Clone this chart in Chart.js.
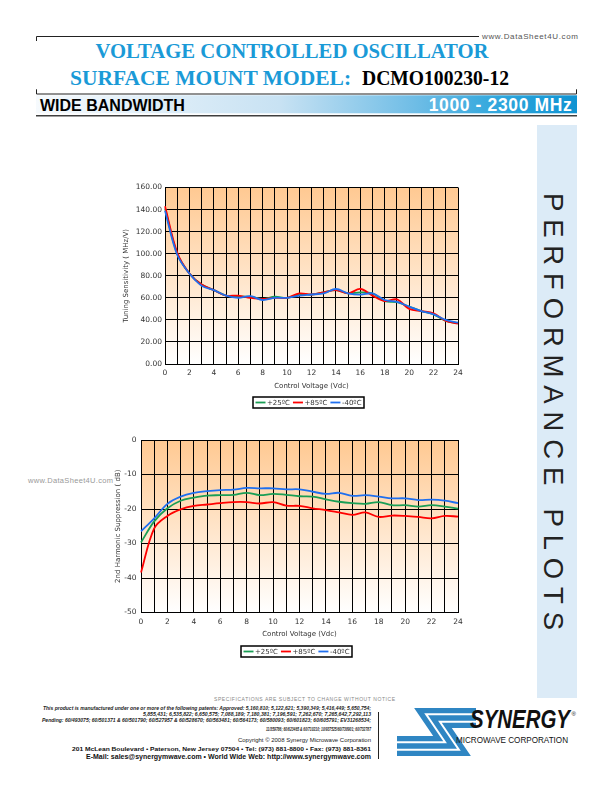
<!DOCTYPE html>
<html><head><meta charset="utf-8">
<script src="https://cdn.jsdelivr.net/npm/chart.js@4/dist/chart.umd.min.js"></script>
<style>
html,body{margin:0;padding:0;background:#fff}
#page{position:relative;width:612px;height:792px;overflow:hidden;background:#fff}
#deco{position:absolute;left:0;top:0}
canvas{position:absolute}
#c1{left:110px;top:180px}
#c2{left:100px;top:430px}
</style></head><body><div id="page">
<svg id="deco" width="612" height="792" xmlns="http://www.w3.org/2000/svg">
  <defs>
    <linearGradient id="bar" x1="0" x2="1" y1="0" y2="0">
      <stop offset="0" stop-color="#f6fafd"/>
      <stop offset="0.45" stop-color="#c8e2f3"/>
      <stop offset="0.7" stop-color="#6fbde6"/>
      <stop offset="0.86" stop-color="#2ea6dc"/>
      <stop offset="1" stop-color="#0f93d2"/>
    </linearGradient>
  </defs>
  <!-- header brackets -->
  <path d="M36.5,41 V36.5 H479" fill="none" stroke="#222" stroke-width="1"/>
  <text x="482" y="39" font-family="Liberation Sans" font-size="8" fill="#555" textLength="96" lengthAdjust="spacing">www.DataSheet4U.com</text>
  <text x="292" y="57.5" text-anchor="middle" font-family="Liberation Serif" font-weight="bold" font-size="20.7" fill="#1a9ad7">VOLTAGE CONTROLLED OSCILLATOR</text>
  <text y="85" font-family="Liberation Serif" font-weight="bold"><tspan x="70" font-size="21.5" fill="#1a9ad7">SURFACE MOUNT MODEL:</tspan><tspan x="362" font-size="21.8" fill="#000" textLength="147" lengthAdjust="spacingAndGlyphs">DCMO100230-12</tspan></text>
  <path d="M36.5,89.3 V94 H576.5 V89.3" fill="none" stroke="#222" stroke-width="1"/>
  <rect x="36" y="95.3" width="541" height="18" fill="url(#bar)"/>
  <rect x="36" y="115.2" width="541" height="1.2" fill="#111"/>
  <text x="40" y="110.7" font-family="Liberation Sans" font-weight="bold" font-size="16" fill="#000">WIDE BANDWIDTH</text>
  <text x="571.7" y="110.5" text-anchor="end" font-family="Liberation Sans" font-weight="bold" font-size="17.5" fill="#fff" textLength="143" lengthAdjust="spacing">1000 - 2300 MHz</text>
  <!-- sidebar -->
  <rect x="537" y="125" width="40" height="573" fill="#dcebf7"/>
  <text transform="translate(554,411.5) rotate(90)" x="0" y="9.8" text-anchor="middle" font-family="Liberation Sans" font-size="27.5" fill="#222" textLength="437" lengthAdjust="spacing">PERFORMANCE PLOTS</text>
  <!-- watermark -->
  <text x="28" y="483" font-family="Liberation Sans" font-size="7.5" fill="#999" textLength="85" lengthAdjust="spacing">www.DataSheet4U.com</text>
  <!-- footer -->
  <text x="214" y="701" font-family="Liberation Sans" font-size="5" fill="#888" textLength="181" lengthAdjust="spacing">SPECIFICATIONS ARE SUBJECT TO CHANGE WITHOUT NOTICE</text>
  <g font-family="Liberation Sans" font-style="italic" font-weight="bold" font-size="4.6" fill="#222">
    <text x="43" y="709.5" textLength="328" lengthAdjust="spacingAndGlyphs">This product is manufactured under one or more of the following patents: Approved: 5,160,810; 5,122,621; 5,390,349; 5,416,449; 5,650,754;</text>
    <text x="143" y="715.5" textLength="228" lengthAdjust="spacingAndGlyphs">5,855,431; 6,535,822; 6,650,575; 7,088,189; 7,180,381; 7,196,591; 7,262,670; 7,265,642,7,292,113</text>
    <text x="42" y="721.5" textLength="329" lengthAdjust="spacingAndGlyphs">Pending: 60/493075; 60/501371 &amp; 60/501790; 60/527957 &amp; 60/528670; 60/563481; 60/564173; 60/580093; 60/601823; 60/605791; EV31268534;</text>
    <text x="266" y="730.5" textLength="105" lengthAdjust="spacingAndGlyphs">11/359786; 60/623465 &amp; 60/710210; 10/937525/60/738901; 60/732787</text>
  </g>
  <text x="238" y="742" font-family="Liberation Sans" font-size="6.2" fill="#222" textLength="133" lengthAdjust="spacingAndGlyphs">Copyright © 2008 Synergy Microwave Corporation</text>
  <text x="72" y="751" font-family="Liberation Sans" font-weight="bold" font-size="6.2" fill="#111" textLength="299" lengthAdjust="spacingAndGlyphs">201 McLean Boulevard • Paterson, New Jersey 07504 • Tel: (973) 881-8800 • Fax: (973) 881-8361</text>
  <text x="86" y="759" font-family="Liberation Sans" font-weight="bold" font-size="6.4" fill="#111" textLength="285" lengthAdjust="spacingAndGlyphs">E-Mail: sales@synergymwave.com • World Wide Web: http://www.synergymwave.com</text>
  <rect x="378" y="712" width="1" height="47" fill="#222"/>
  <!-- logo -->
  <g fill="none" stroke-linejoin="miter" stroke-miterlimit="10">
    <path d="M476,718 H433 L452,746 H397" stroke="#2f86c3" stroke-width="20"/>
    <path d="M476,718 H433 L452,746 H397" stroke="#fff" stroke-width="9.3"/>
    <path d="M476,718 H433 L452,746 H397" stroke="#2f86c3" stroke-width="5.3"/>
  </g>
  <text x="470" y="728" font-family="Liberation Sans Narrow, Liberation Sans" font-weight="bold" font-style="italic" font-size="26" fill="#111" textLength="100" lengthAdjust="spacingAndGlyphs">SYNERGY</text>
  <text x="571.5" y="716" font-family="Liberation Sans" font-size="6" fill="#111">®</text>
  <text x="456" y="743" font-family="Liberation Sans Narrow, Liberation Sans" font-size="8.5" fill="#111" textLength="112" lengthAdjust="spacingAndGlyphs">MICROWAVE CORPORATION</text>
</svg>
<canvas id="c1" width="360" height="240"></canvas>
<canvas id="c2" width="370" height="240"></canvas>
</div>
<script>
// ---- data ----
const voltage = [0,1,2,3,4,5,6,7,8,9,10,11,12,13,14,15,16,17,18,19,20,21,22,23,24];
const xTickLabels = ['0','2','4','6','8','10','12','14','16','18','20','22','24'];
const seriesLabels = ['+25ºC','+85ºC','-40ºC'];
const seriesColors = ['#1a9e55','#ff0000','#1f6fef'];

const sensTicks = [0,20,40,60,80,100,120,140,160];
const sens25  = [141,100,82,72,67,62,61,61,59,61,60,63,63,65,67,64,65,64,57,56,52,48,45,39,37];
const sens85  = [143,101,82,72,67,62,62,60,59,60,60,64,63,65,67,64,68,62,57,58.5,50,48,46,39,36.5];
const sensM40 = [139,99,82,71,67,62,60,61.5,58,60,60,62,63,64,68,64,62.8,64,58,56.3,52,48,45,40,37.5];

const harmTicks = [0,-10,-20,-30,-40,-50];
const harm25  = [-29.7,-23.6,-19.8,-17.6,-16.7,-16.1,-16,-15.9,-15.3,-16,-15.6,-15.9,-16.3,-16.4,-17.2,-17.9,-18.3,-18.5,-18,-18.9,-18.9,-19.3,-18.9,-19.3,-19.9];
const harm85  = [-38.4,-25.6,-22,-20.1,-19.1,-18.7,-18.3,-18,-18,-18.4,-18,-19,-19.1,-19.8,-20.3,-21,-21.7,-21,-22.3,-21.9,-22,-22.3,-22.7,-22,-22.2];
const harmM40 = [-26.5,-22.7,-18.5,-16.4,-15.3,-14.8,-14.5,-14.4,-13.9,-14,-14,-14.3,-14.3,-15,-15.6,-15.3,-16.2,-16,-16.4,-16.9,-16.9,-17.4,-17.3,-17.6,-18.3];

Chart.defaults.font.family = '"DejaVu Sans", Verdana, sans-serif';
Chart.defaults.color = '#333';

const bgPlugin = {
  id: 'bg',
  beforeDraw(chart) {
    const {ctx, chartArea: a} = chart;
    const g = ctx.createLinearGradient(0, a.top, 0, a.bottom);
    g.addColorStop(0, '#ffc992');
    g.addColorStop(1, '#ffffff');
    ctx.save();
    ctx.fillStyle = g;
    ctx.fillRect(a.left, a.top, a.right - a.left, a.bottom - a.top);
    ctx.restore();
  }
};

const legendPlugin = {
  id: 'boxLegend',
  afterDraw(chart, args, opts) {
    const ctx = chart.ctx, a = chart.chartArea;
    ctx.save();
    ctx.font = '7px "DejaVu Sans", Verdana, sans-serif';
    const items = chart.data.datasets.map(d => ({text: d.label, color: d.borderColor}));
    const lineW = 10, gap1 = 1.5, gap2 = 3, pad = 2.5, h = 11;
    let w = pad * 2;
    items.forEach((it, i) => { it.tw = ctx.measureText(it.text).width; w += lineW + gap1 + it.tw + (i < items.length - 1 ? gap2 : 0); });
    const cx = (a.left + a.right) / 2 + opts.dx;
    const cy = a.bottom + opts.dy;
    const x0 = Math.round(cx - w / 2), y0 = Math.round(cy - h / 2);
    ctx.fillStyle = '#fff';
    ctx.fillRect(x0, y0, w, h);
    ctx.strokeStyle = '#000';
    ctx.lineWidth = 1.5;
    ctx.strokeRect(x0, y0, Math.round(w), h);
    let x = x0 + pad;
    ctx.textBaseline = 'middle';
    items.forEach(it => {
      ctx.strokeStyle = it.color;
      ctx.lineWidth = 1.8;
      ctx.beginPath(); ctx.moveTo(x, y0 + h / 2); ctx.lineTo(x + lineW, y0 + h / 2); ctx.stroke();
      x += lineW + gap1;
      ctx.fillStyle = '#333';
      ctx.fillText(it.text, x, y0 + h / 2 + 0.5);
      x += it.tw + gap2;
    });
    ctx.restore();
  }
};

function buildChart(id, cfg) {
  const gridOpt = {color: '#000', lineWidth: 1, drawTicks: false};
  return new Chart(document.getElementById(id), {
    type: 'line',
    data: {
      labels: voltage.map(String),
      datasets: cfg.series.map((s, i) => ({
        label: seriesLabels[i], data: s,
        borderColor: seriesColors[i], backgroundColor: seriesColors[i],
        borderWidth: 1.8, pointRadius: 0, tension: 0.35, fill: false, order: 3 - i
      }))
    },
    options: {
      responsive: false, animation: false, events: [],
      layout: {padding: cfg.padding},
      plugins: {legend: {display: false}, tooltip: {enabled: false}, boxLegend: {dx: -2.5, dy: 38.6}},
      scales: {
        x: {
          type: 'category', grid: gridOpt, border: {color: '#000', width: 1},
          ticks: {autoSkip: false, maxRotation: 0, padding: 5, font: {size: 7.5}, color: '#333',
            callback(v) { const l = this.getLabelForValue(v); return xTickLabels.includes(l) ? l : ''; }},
          title: {display: true, text: 'Control Voltage (Vdc)', font: {size: 7}, color: '#333', padding: 0},
          afterFit(s) { s.height = cfg.xH; }
        },
        y: {
          type: 'linear', min: cfg.min, max: cfg.max, grid: gridOpt, border: {color: '#000', width: 1},
          ticks: {padding: cfg.tickPad, font: {size: 7.5}, color: '#333', callback: cfg.fmt},
          afterBuildTicks(s) { s.ticks = cfg.ticks.map(v => ({value: v})); },
          title: {display: true, text: cfg.yTitle, font: {size: 7}, color: '#333', padding: 0},
          afterFit(s) { s.width = cfg.yW; }
        }
      }
    },
    plugins: [bgPlugin, legendPlugin]
  });
}

buildChart('c1', {
  series: [sens25, sens85, sensM40], ticks: sensTicks, min: 0, max: 160,
  fmt: v => Number(v).toFixed(2), tickPad: 3,
  padding: {left: 12, top: 7, right: 12, bottom: 30}, yW: 43, xH: 26,
  yTitle: 'Tuning Sensitivity ( MHz/V)'
});
buildChart('c2', {
  series: [harm25, harm85, harmM40], ticks: harmTicks, min: -50, max: 0,
  fmt: v => String(v), tickPad: 4.5,
  padding: {left: 14, top: 10, right: 12, bottom: 32}, yW: 27, xH: 25.5,
  yTitle: '2nd Harmonic Suppression ( dB)'
});
</script>
</body></html>
